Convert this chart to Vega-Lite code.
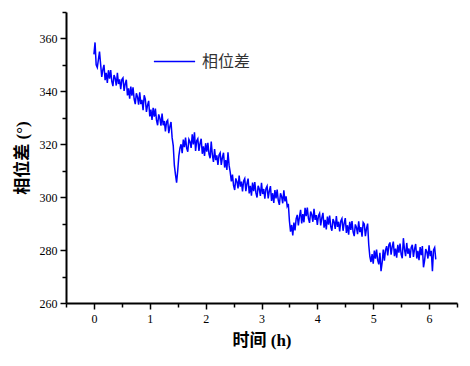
{
"$schema": "https://vega.github.io/schema/vega-lite/v6.json",
"width": 391, "height": 291,
"autosize": {"type": "none"},
"padding": {"left": 66, "top": 12, "right": 13, "bottom": 63},
"background": "white",
"data": {"values": [
{"t":0.00,"v":354},{"t":0.02,"v":358.5},{"t":0.04,"v":350},{"t":0.06,"v":349},{"t":0.08,"v":352},{"t":0.10,"v":355},{"t":0.12,"v":350.2},{"t":0.14,"v":345.5},{"t":0.16,"v":348.2},{"t":0.18,"v":350},
{"t":0.20,"v":344.2},{"t":0.22,"v":347},{"t":0.24,"v":343.2},{"t":0.26,"v":348},{"t":0.28,"v":344.8},{"t":0.30,"v":348},{"t":0.32,"v":343.8},{"t":0.34,"v":342},{"t":0.36,"v":346.2},{"t":0.38,"v":345},
{"t":0.40,"v":342.2},{"t":0.42,"v":347},{"t":0.44,"v":342.8},{"t":0.46,"v":344.5},{"t":0.48,"v":340.8},{"t":0.50,"v":344.5},{"t":0.52,"v":345.1},{"t":0.54,"v":340.2},{"t":0.56,"v":342.8},{"t":0.58,"v":344.4},
{"t":0.60,"v":338.5},{"t":0.62,"v":341.1},{"t":0.64,"v":337.2},{"t":0.66,"v":341.8},{"t":0.68,"v":338.4},{"t":0.70,"v":341.5},{"t":0.72,"v":337.1},{"t":0.74,"v":335.2},{"t":0.76,"v":339.3},{"t":0.78,"v":337.9},
{"t":0.80,"v":335},{"t":0.82,"v":339.6},{"t":0.84,"v":335.2},{"t":0.86,"v":336.8},{"t":0.88,"v":332.9},{"t":0.90,"v":338.5},{"t":0.92,"v":337.1},{"t":0.94,"v":332.2},{"t":0.96,"v":334.8},{"t":0.98,"v":336.4},
{"t":1.00,"v":330.5},{"t":1.02,"v":333.1},{"t":1.04,"v":329.2},{"t":1.06,"v":333.8},{"t":1.08,"v":330.4},{"t":1.10,"v":333.5},{"t":1.12,"v":329.1},{"t":1.14,"v":327.2},{"t":1.16,"v":331.3},{"t":1.18,"v":329.9},
{"t":1.20,"v":327},{"t":1.22,"v":331.6},{"t":1.24,"v":327.2},{"t":1.26,"v":328.8},{"t":1.28,"v":324.9},{"t":1.30,"v":328.5},{"t":1.32,"v":329.1},{"t":1.34,"v":324.2},{"t":1.36,"v":326.8},{"t":1.38,"v":328.4},
{"t":1.40,"v":322.5},{"t":1.42,"v":319.5},{"t":1.44,"v":312},{"t":1.46,"v":308.5},{"t":1.48,"v":305.5},{"t":1.50,"v":310},{"t":1.52,"v":315.5},{"t":1.54,"v":318.5},{"t":1.56,"v":320},{"t":1.58,"v":316.6},
{"t":1.60,"v":321.8},{"t":1.62,"v":318.9},{"t":1.64,"v":322.5},{"t":1.66,"v":318.6},{"t":1.68,"v":317.2},{"t":1.70,"v":321.9},{"t":1.72,"v":321},{"t":1.74,"v":318.6},{"t":1.76,"v":323.8},{"t":1.78,"v":319.9},
{"t":1.80,"v":324.5},{"t":1.82,"v":317.5},{"t":1.84,"v":321.3},{"t":1.86,"v":322.1},{"t":1.88,"v":317.5},{"t":1.90,"v":320.3},{"t":1.92,"v":322.1},{"t":1.94,"v":316.4},{"t":1.96,"v":319.2},{"t":1.98,"v":315.6},
{"t":2.00,"v":320.4},{"t":2.02,"v":317.2},{"t":2.04,"v":320.5},{"t":2.06,"v":316.3},{"t":2.08,"v":314.7},{"t":2.10,"v":321},{"t":2.12,"v":316},{"t":2.14,"v":313.3},{"t":2.16,"v":318.2},{"t":2.18,"v":314},
{"t":2.20,"v":315.8},{"t":2.22,"v":312.2},{"t":2.24,"v":316},{"t":2.26,"v":316.8},{"t":2.28,"v":312.2},{"t":2.30,"v":315},{"t":2.32,"v":316.8},{"t":2.34,"v":311.2},{"t":2.36,"v":314},{"t":2.38,"v":310.3},
{"t":2.40,"v":317},{"t":2.42,"v":312},{"t":2.44,"v":309.5},{"t":2.46,"v":306},{"t":2.48,"v":308.5},{"t":2.50,"v":304.4},{"t":2.52,"v":302.7},{"t":2.54,"v":307.1},{"t":2.56,"v":305.9},{"t":2.58,"v":303.3},
{"t":2.60,"v":308.2},{"t":2.62,"v":304},{"t":2.64,"v":305.9},{"t":2.66,"v":302.2},{"t":2.68,"v":306.1},{"t":2.70,"v":307},{"t":2.72,"v":302.3},{"t":2.74,"v":305.2},{"t":2.76,"v":307},{"t":2.78,"v":301.4},
{"t":2.80,"v":304.3},{"t":2.82,"v":300.6},{"t":2.84,"v":305.5},{"t":2.86,"v":302.3},{"t":2.88,"v":305.7},{"t":2.90,"v":301.6},{"t":2.92,"v":299.9},{"t":2.94,"v":304.3},{"t":2.96,"v":303.1},{"t":2.98,"v":300.5},
{"t":3.00,"v":305.4},{"t":3.02,"v":301.2},{"t":3.04,"v":303.1},{"t":3.06,"v":299.4},{"t":3.08,"v":303.3},{"t":3.10,"v":304.2},{"t":3.12,"v":299.5},{"t":3.14,"v":302.4},{"t":3.16,"v":304.2},{"t":3.18,"v":298.6},
{"t":3.20,"v":301.5},{"t":3.22,"v":297.8},{"t":3.24,"v":302.7},{"t":3.26,"v":299.5},{"t":3.28,"v":302.9},{"t":3.30,"v":298.8},{"t":3.32,"v":297.1},{"t":3.34,"v":301.5},{"t":3.36,"v":300.3},{"t":3.38,"v":297.7},
{"t":3.40,"v":302.6},{"t":3.42,"v":298.4},{"t":3.44,"v":300.3},{"t":3.46,"v":296.6},{"t":3.48,"v":297.5},{"t":3.50,"v":291},{"t":3.52,"v":287},{"t":3.54,"v":289.5},{"t":3.56,"v":285.5},{"t":3.58,"v":290.4},
{"t":3.60,"v":287.4},{"t":3.62,"v":291.8},{"t":3.64,"v":293.3},{"t":3.66,"v":289.3},{"t":3.68,"v":292.7},{"t":3.70,"v":295.2},{"t":3.72,"v":290.1},{"t":3.74,"v":293.6},{"t":3.76,"v":290.5},{"t":3.78,"v":296},
{"t":3.80,"v":292.8},{"t":3.82,"v":296.1},{"t":3.84,"v":292},{"t":3.86,"v":290.3},{"t":3.88,"v":294.6},{"t":3.90,"v":293.4},{"t":3.92,"v":290.7},{"t":3.94,"v":295.6},{"t":3.96,"v":291.4},{"t":3.98,"v":293.2},
{"t":4.00,"v":289.5},{"t":4.02,"v":293},{"t":4.04,"v":293.9},{"t":4.06,"v":289.3},{"t":4.08,"v":292.2},{"t":4.10,"v":294.1},{"t":4.12,"v":288.5},{"t":4.14,"v":291.4},{"t":4.16,"v":287.8},{"t":4.18,"v":292.7},
{"t":4.20,"v":289.6},{"t":4.22,"v":293},{"t":4.24,"v":288.9},{"t":4.26,"v":287.3},{"t":4.28,"v":291.7},{"t":4.30,"v":290.6},{"t":4.32,"v":288},{"t":4.34,"v":292.9},{"t":4.36,"v":288.8},{"t":4.38,"v":290.7},
{"t":4.40,"v":287.1},{"t":4.42,"v":291},{"t":4.44,"v":291.9},{"t":4.46,"v":287.3},{"t":4.48,"v":290.2},{"t":4.50,"v":292.1},{"t":4.52,"v":286.5},{"t":4.54,"v":289.4},{"t":4.56,"v":285.8},{"t":4.58,"v":290.7},
{"t":4.60,"v":287.6},{"t":4.62,"v":291},{"t":4.64,"v":286.9},{"t":4.66,"v":285.3},{"t":4.68,"v":289.7},{"t":4.70,"v":288.6},{"t":4.72,"v":286},{"t":4.74,"v":290.9},{"t":4.76,"v":286.8},{"t":4.78,"v":288.7},
{"t":4.80,"v":285.1},{"t":4.82,"v":290.5},{"t":4.84,"v":289.9},{"t":4.86,"v":285.3},{"t":4.88,"v":288.2},{"t":4.90,"v":290},{"t":4.92,"v":282},{"t":4.94,"v":277.5},{"t":4.96,"v":275.5},{"t":4.98,"v":278.5},
{"t":5.00,"v":274.9},{"t":5.02,"v":279.8},{"t":5.04,"v":276.8},{"t":5.06,"v":280.2},{"t":5.08,"v":276.2},{"t":5.10,"v":274.6},{"t":5.12,"v":279},{"t":5.14,"v":272},{"t":5.16,"v":275.3},{"t":5.18,"v":280.2},
{"t":5.20,"v":276},{"t":5.22,"v":280},{"t":5.24,"v":281.5},{"t":5.26,"v":278},{"t":5.28,"v":281.9},{"t":5.30,"v":282.9},{"t":5.32,"v":278.3},{"t":5.34,"v":281.3},{"t":5.36,"v":283.2},{"t":5.38,"v":277.7},
{"t":5.40,"v":280.6},{"t":5.42,"v":277.1},{"t":5.44,"v":282},{"t":5.46,"v":279},{"t":5.48,"v":282.5},{"t":5.50,"v":278.4},{"t":5.52,"v":276.9},{"t":5.54,"v":284.5},{"t":5.56,"v":280.3},{"t":5.58,"v":277.7},
{"t":5.60,"v":282.7},{"t":5.62,"v":278.6},{"t":5.64,"v":280.6},{"t":5.66,"v":277},{"t":5.68,"v":281},{"t":5.70,"v":282},{"t":5.72,"v":277.4},{"t":5.74,"v":280.4},{"t":5.76,"v":282.3},{"t":5.78,"v":276.8},
{"t":5.80,"v":279.7},{"t":5.82,"v":276.2},{"t":5.84,"v":281.1},{"t":5.86,"v":278.1},{"t":5.88,"v":281.5},{"t":5.90,"v":273.5},{"t":5.92,"v":276},{"t":5.94,"v":280.4},{"t":5.96,"v":279.4},{"t":5.98,"v":276.8},
{"t":6.00,"v":281.8},{"t":6.02,"v":277.7},{"t":6.04,"v":279.7},{"t":6.06,"v":272},{"t":6.08,"v":280.1},{"t":6.10,"v":281},{"t":6.12,"v":276.5}
]},
"mark": {"type": "line", "strokeWidth": 1.5, "interpolate": "linear"},
"encoding": {
  "x": {"field": "t", "type": "quantitative",
    "scale": {"domain": [-0.5, 6.5], "nice": false, "zero": false},
    "axis": {"title": "时间 (h)", "values": [-0.5,0,0.5,1,1.5,2,2.5,3,3.5,4,4.5,5,5.5,6,6.5],
      "labelExpr": "datum.value % 1 === 0 ? format(datum.value, 'd') : ''",
      "labelOverlap": false, "labelFlush": false, "grid": false,
      "labelFont": "'Liberation Serif', serif", "labelFontSize": 12, "labelColor": "black", "labelPadding": 4,
      "domainColor": "black", "domainWidth": 2, "tickColor": "black", "tickWidth": 1.5,
      "tickSize": {"condition": {"test": "datum.value % 1 === 0", "value": 6}, "value": 4},
      "titleFont": "'Liberation Serif', 'Noto Sans CJK SC', serif", "titleFontSize": 17, "titleFontWeight": "bold", "titleColor": "black", "titlePadding": 8}},
  "y": {"field": "v", "type": "quantitative",
    "scale": {"domain": [260, 370], "nice": false, "zero": false},
    "axis": {"title": "相位差 (°)", "values": [260,270,280,290,300,310,320,330,340,350,360,370],
      "labelExpr": "datum.value % 20 === 0 && datum.value < 370 ? format(datum.value, 'd') : ''",
      "labelOverlap": false, "labelFlush": false, "grid": false,
      "labelFont": "'Liberation Serif', serif", "labelFontSize": 12, "labelColor": "black", "labelPadding": 3,
      "domainColor": "black", "domainWidth": 2, "tickColor": "black", "tickWidth": 1.5,
      "tickSize": {"condition": {"test": "datum.value % 20 === 0", "value": 6}, "value": 4},
      "titleFont": "'Liberation Serif', 'Noto Sans CJK SC', serif", "titleFontSize": 17, "titleFontWeight": "bold", "titleColor": "black", "titlePadding": 8}},
  "color": {"datum": "相位差", "type": "nominal", "scale": {"range": ["#0000ff"]},
    "legend": {"title": null, "orient": "none", "legendX": 87, "legendY": 28, "padding": 0,
      "symbolType": "stroke", "symbolSize": 1700, "symbolStrokeWidth": 1.5, "symbolStrokeColor": "#0000ff",
      "labelFont": "'Noto Sans CJK SC', sans-serif", "labelFontSize": 16, "labelColor": "#333333", "labelOffset": 6}}
},
"config": {"view": {"stroke": null}}
}
